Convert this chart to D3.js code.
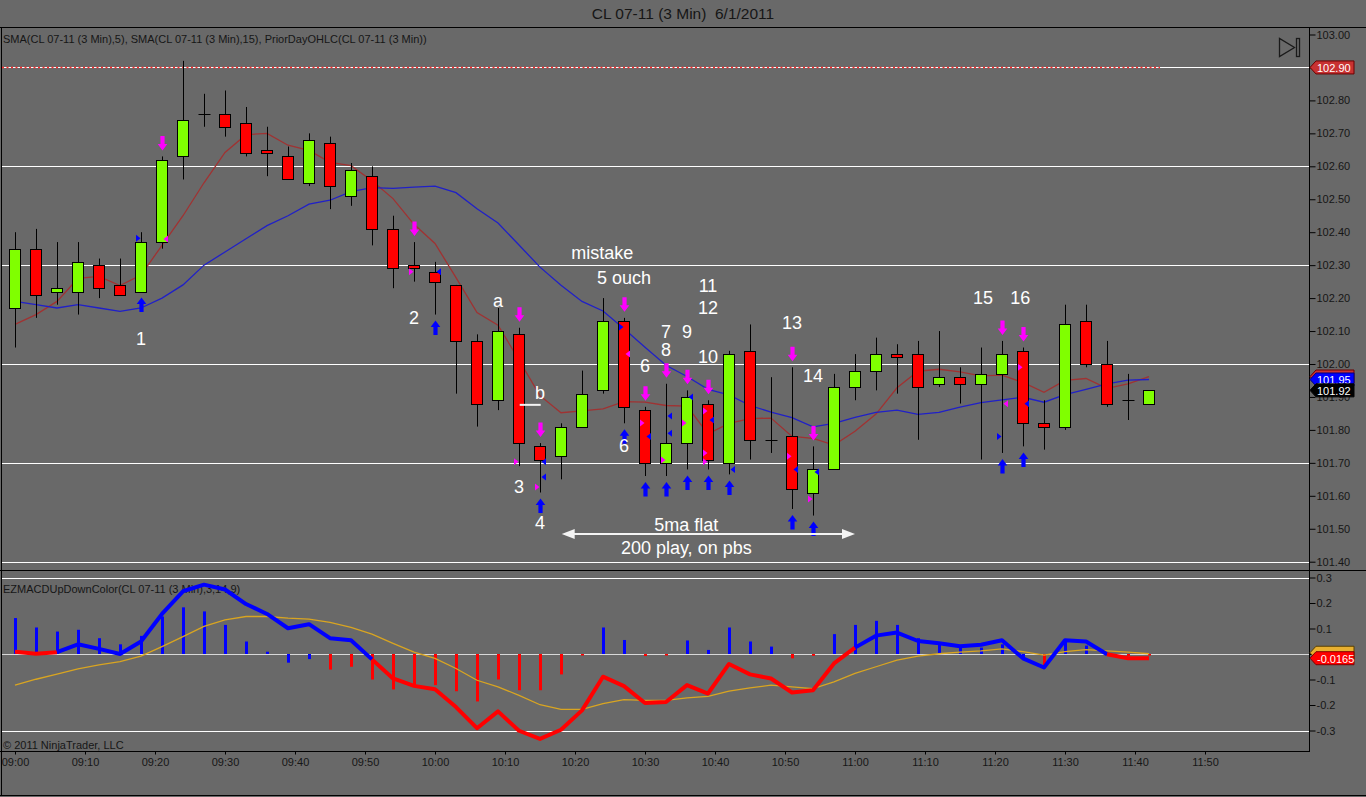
<!DOCTYPE html>
<html><head><meta charset="utf-8">
<script src="https://d3js.org/d3.v7.min.js"></script>
<style>html,body{margin:0;padding:0;background:#696969;overflow:hidden}svg{display:block}</style>
</head><body>
<svg id="c" width="1366" height="797"></svg>
<script>
// ---------------- DATA ----------------
const chartTitle = "CL 07-11 (3 Min)  6/1/2011";
const priceLegend = "SMA(CL 07-11 (3 Min),5), SMA(CL 07-11 (3 Min),15), PriorDayOHLC(CL 07-11 (3 Min))";
const macdLegend = "EZMACDUpDownColor(CL 07-11 (3 Min),3,14,9)";
const copyright = "© 2011 NinjaTrader, LLC";
const startTime = new Date(2011, 5, 1, 9, 0);
const barMinutes = 3;

const opens  = [102.17,102.35,102.22,102.22,102.30,102.24,102.22,102.37,102.63,102.76,102.76,102.73,102.65,102.63,102.55,102.67,102.51,102.57,102.41,102.30,102.28,102.24,102.07,101.89,102.09,101.75,101.72,101.81,101.92,102.13,101.86,101.70,101.76,101.88,101.70,102.04,101.77,101.78,101.61,101.68,101.93,101.98,102.03,102.03,101.94,101.96,101.94,101.97,102.04,101.82,101.81,102.13,102.00,101.89,101.88];
const highs  = [102.40,102.41,102.37,102.37,102.32,102.32,102.40,102.63,102.92,102.82,102.83,102.78,102.72,102.66,102.70,102.69,102.61,102.60,102.45,102.37,102.31,102.24,102.09,102.17,102.11,101.76,101.82,101.98,102.20,102.14,101.87,101.94,101.92,101.89,102.04,102.12,101.96,101.99,101.75,101.97,102.03,102.08,102.06,102.07,102.10,101.99,102.05,102.07,102.05,101.89,102.18,102.18,102.07,101.97,101.92];
const lows   = [102.05,102.14,102.18,102.15,102.20,102.21,102.22,102.35,102.56,102.72,102.69,102.63,102.57,102.56,102.54,102.47,102.48,102.36,102.23,102.25,102.15,101.91,101.81,101.86,101.69,101.61,101.65,101.81,101.91,101.82,101.66,101.66,101.68,101.68,101.665,101.71,101.73,101.56,101.54,101.68,101.89,101.92,101.91,101.77,101.93,101.88,101.71,101.73,101.75,101.74,101.80,101.99,101.87,101.83,101.88];
const closes = [102.35,102.21,102.23,102.31,102.23,102.21,102.37,102.62,102.74,102.76,102.72,102.64,102.64,102.56,102.68,102.54,102.59,102.41,102.29,102.29,102.25,102.07,101.88,102.10,101.76,101.71,101.81,101.91,102.13,101.87,101.70,101.76,101.90,101.71,102.03,101.77,101.77,101.62,101.68,101.93,101.98,102.03,102.02,101.93,101.96,101.94,101.97,102.03,101.82,101.81,102.12,102.00,101.88,101.89,101.92];

const sma5  = [102.12,102.15,102.19,102.26,102.266,102.238,102.27,102.36,102.45,102.55,102.642,102.696,102.70,102.664,102.648,102.612,102.602,102.556,102.502,102.424,102.366,102.262,102.156,102.118,102.012,101.904,101.852,101.858,101.864,101.886,101.884,101.874,101.872,101.788,101.82,101.834,101.836,101.78,101.774,101.754,101.796,101.848,101.928,101.978,101.984,101.976,101.964,101.966,101.944,101.914,101.95,101.956,101.926,101.94,101.962];
const sma15 = [102.19,102.18,102.17,102.18,102.17,102.16,102.17,102.20,102.24,102.30,102.34,102.38,102.42,102.45,102.485,102.497,102.523,102.535,102.533,102.537,102.540,102.520,102.471,102.428,102.361,102.294,102.239,102.190,102.161,102.107,102.051,101.996,101.962,101.923,101.906,101.874,101.854,101.837,101.809,101.820,101.838,101.853,101.860,101.847,101.853,101.869,101.883,101.891,101.899,101.884,101.907,101.923,101.940,101.951,101.953];

const macdLine = [0.009,0.001,0.007,0.038,0.020,0.000,0.049,0.157,0.246,0.272,0.253,0.196,0.157,0.101,0.117,0.062,0.054,-0.021,-0.096,-0.125,-0.138,-0.208,-0.291,-0.225,-0.301,-0.333,-0.297,-0.221,-0.089,-0.126,-0.192,-0.188,-0.122,-0.155,-0.039,-0.080,-0.096,-0.151,-0.142,-0.037,0.025,0.072,0.084,0.051,0.042,0.030,0.036,0.054,-0.017,-0.053,0.054,0.049,-0.001,-0.017,-0.0165];
const macdAvg  = [-0.122,-0.099,-0.079,-0.058,-0.043,-0.030,-0.008,0.029,0.068,0.108,0.134,0.147,0.147,0.141,0.137,0.124,0.104,0.078,0.042,0.007,-0.017,-0.057,-0.103,-0.129,-0.162,-0.199,-0.217,-0.217,-0.195,-0.179,-0.182,-0.182,-0.172,-0.166,-0.146,-0.133,-0.122,-0.129,-0.136,-0.109,-0.076,-0.050,-0.024,-0.008,0.001,0.007,0.012,0.020,0.009,-0.004,0.009,0.017,0.012,0.007,0.001];
const macdDiff = [0.141,0.104,0.088,0.095,0.062,0.038,0.071,0.147,0.183,0.167,0.114,0.049,0.009,-0.034,-0.020,-0.061,-0.050,-0.100,-0.139,-0.126,-0.122,-0.146,-0.186,-0.100,-0.142,-0.142,-0.080,0.000,0.104,0.055,-0.008,-0.004,0.053,0.016,0.104,0.049,0.029,-0.017,-0.007,0.078,0.114,0.130,0.114,0.062,0.045,0.029,0.025,0.038,-0.015,-0.043,0.055,0.033,-0.005,-0.008,-0.005];
const macdLineColors = "RRRBBBBBBBBBBBBBBBRRRRRRRRRRRRRRRRRRRRRRRBBBBBBBBBBBBRR";
const macdDiffColors = "BBBBBBBBBBBBBBBRRRRRRRRRRRRRBBRRBBBBBRRBBBBBBBBBBRBBBRR";

const priceTicks = [101.4,101.5,101.6,101.7,101.8,101.9,102.0,102.1,102.2,102.3,102.4,102.5,102.6,102.7,102.8,102.9,103.0];
const priceGrid  = [101.4,101.7,102.0,102.3,102.6,102.9];
const macdTicks  = [-0.3,-0.2,-0.1,0,0.1,0.2,0.3];
const macdGrid   = [-0.3,0.3];
const timeTicks  = ["09:00","09:10","09:20","09:30","09:40","09:50","10:00","10:10","10:20","10:30","10:40","10:50","11:00","11:10","11:20","11:30","11:40","11:50"];
const priorDayHigh = 102.90;

// signal arrows (bar index)
const downArrowBars = [7,19,24,25,29,30,31,32,33,37,38,47,48];
const upArrowBars   = [6,20,25,29,30,31,32,33,34,37,38,47,48];
// small triangles: [bar, price, colour, side]
const markers = [
  [6,102.382,"B","L"],[20,102.28,"B","R"],[25,101.703,"B","R"],[25,101.657,"B","R"],[29,102.112,"B","L"],
  [30,101.78,"B","R"],[31,101.842,"B","R"],[31,101.79,"B","R"],[32,101.90,"B","R"],[33,101.83,"B","R"],
  [34,101.68,"B","R"],[37,101.68,"B","R"],[38,101.672,"B","R"],[47,101.78,"B","L"],[48,101.879,"B","R"],
  [7,102.379,"M","R"],[19,102.28,"M","L"],[24,101.703,"M","L"],[25,101.627,"M","L"],[29,102.03,"M","R"],
  [30,101.821,"M","L"],[31,101.709,"M","L"],[32,101.821,"M","L"],[33,101.857,"M","L"],[33,101.73,"M","L"],
  [33,101.703,"M","L"],[37,101.72,"M","L"],[38,101.59,"M","L"],[47,101.879,"M","R"],[48,101.99,"M","L"]
];
// annotations: [minutes after 09:00, price, text]
const notes = [
  [18,102.076,"1"],[57,102.14,"2"],[69,102.19,"a"],[75,101.912,"b"],[72,101.627,"3"],[75,101.517,"4"],
  [83.9,102.337,"mistake"],[87,102.261,"5 ouch"],[90,101.994,"6"],[87,101.75,"6"],
  [93,102.097,"7"],[93,102.042,"8"],[96,102.097,"9"],[99,102.021,"10"],[99,102.237,"11"],[99,102.17,"12"],
  [111,102.124,"13"],[114,101.964,"14"],[138.3,102.20,"15"],[143.6,102.20,"16"],
  [95.9,101.511,"5ma flat"],[95.9,101.442,"200 play, on pbs"]
];
const bMark = [72.1, 75.1, 101.876];          // short white line near "b"
const rangeArrow = [78.1, 120, 101.484];      // double-headed arrow

// ---------------- SETUP ----------------
const svg = d3.select("#c");
const W = 1366, H = 797;
const plotRight = 1309;
const font = "'Liberation Sans', Arial, sans-serif";
const txtCol = "#161616";
const tAt = m => new Date(+startTime + m * 60000);
const barTime = i => tAt(i * barMinutes);
const parseHM = s => { const [h, m] = s.split(":").map(Number); return tAt((h - 9) * 60 + m); };

const x = d3.scaleTime().domain([startTime, tAt(180)]).range([15, 1275]);
const y = d3.scaleLinear().domain([101.4, 103.0]).range([561.7, 34.5]);
const ym = d3.scaleLinear().domain([-0.3, 0.3]).range([730.5, 577.5]);

svg.append("rect").attr("width", W).attr("height", H).attr("fill", "#696969");

// title
svg.append("text").attr("x", 683).attr("y", 13).attr("text-anchor", "middle")
  .attr("dominant-baseline", "central").style("white-space", "pre")
  .attr("font-family", font).attr("font-size", 15.5).attr("fill", txtCol).text(chartTitle);

// grids
const gg = svg.append("g");
gg.selectAll("line.pg").data(priceGrid).join("line")
  .attr("x1", 2).attr("x2", plotRight).attr("y1", d => Math.round(y(d)) + 0.5).attr("y2", d => Math.round(y(d)) + 0.5)
  .attr("stroke", "#ffffff").attr("stroke-width", 1);
gg.selectAll("line.mg").data(macdGrid).join("line")
  .attr("x1", 2).attr("x2", plotRight).attr("y1", d => Math.round(ym(d)) + 0.5).attr("y2", d => Math.round(ym(d)) + 0.5)
  .attr("stroke", "#ffffff").attr("stroke-width", 1);
gg.append("line").attr("x1", 2).attr("x2", plotRight)
  .attr("y1", Math.round(ym(0)) + 0.5).attr("y2", Math.round(ym(0)) + 0.5)
  .attr("stroke", "#d8d8d8").attr("stroke-width", 1);

// prior day high (dotted red over the grid)
const lastX = x(barTime(closes.length - 1));
gg.append("line").attr("x1", 2).attr("x2", lastX + 11)
  .attr("y1", Math.round(y(priorDayHigh)) + 0.5).attr("y2", Math.round(y(priorDayHigh)) + 0.5)
  .attr("stroke", "#ff2a2a").attr("stroke-width", 1.6).attr("stroke-dasharray", "2,2.5");

// legends
svg.append("text").attr("x", 3).attr("y", 39).attr("dominant-baseline", "central")
  .attr("font-family", font).attr("font-size", 11).attr("fill", txtCol).text(priceLegend);
svg.append("text").attr("x", 3).attr("y", 589).attr("dominant-baseline", "central")
  .attr("font-family", font).attr("font-size", 11).attr("fill", txtCol).text(macdLegend);
svg.append("text").attr("x", 3).attr("y", 745).attr("dominant-baseline", "central")
  .attr("font-family", font).attr("font-size", 11).attr("fill", txtCol).text(copyright);

// ---------------- SMA lines ----------------
const lineGen = d3.line().x((d, i) => x(barTime(i))).y(d => y(d));
svg.append("path").datum(sma5).attr("d", lineGen).attr("fill", "none")
  .attr("stroke", "#a03232").attr("stroke-width", 1.3);
svg.append("path").datum(sma15).attr("d", lineGen).attr("fill", "none")
  .attr("stroke", "#2020c8").attr("stroke-width", 1.3);

// ---------------- Candles ----------------
const bars = closes.map((c, i) => ({ i, t: barTime(i), o: opens[i], h: highs[i], l: lows[i], c }));
const cg = svg.append("g");
cg.selectAll("line.wick").data(bars).join("line")
  .attr("x1", d => Math.round(x(d.t)) + 0.5).attr("x2", d => Math.round(x(d.t)) + 0.5)
  .attr("y1", d => y(d.h)).attr("y2", d => y(d.l))
  .attr("stroke", "#000").attr("stroke-width", 1);
cg.selectAll("rect.body").data(bars.filter(d => d.c !== d.o)).join("rect")
  .attr("x", d => Math.round(x(d.t)) - 5.5)
  .attr("y", d => Math.round(y(Math.max(d.o, d.c))) + 0.5)
  .attr("width", 11)
  .attr("height", d => Math.max(2, Math.round(y(Math.min(d.o, d.c))) - Math.round(y(Math.max(d.o, d.c)))))
  .attr("fill", d => d.c > d.o ? "#80ff00" : "#ff0000")
  .attr("stroke", "#000").attr("stroke-width", 1);
cg.selectAll("line.doji").data(bars.filter(d => d.c === d.o)).join("line")
  .attr("x1", d => Math.round(x(d.t)) - 5.5).attr("x2", d => Math.round(x(d.t)) + 6.5)
  .attr("y1", d => Math.round(y(d.c)) + 0.5).attr("y2", d => Math.round(y(d.c)) + 0.5)
  .attr("stroke", "#000").attr("stroke-width", 1);

// ---------------- Markers ----------------
const mg = svg.append("g");
const downArrow = "M0,0 L-4.8,-6.5 L-2.1,-6.5 L-2.1,-14.5 L2.1,-14.5 L2.1,-6.5 L4.8,-6.5 Z";
const upArrow = "M0,0 L-4.8,6.5 L-2.1,6.5 L-2.1,14.5 L2.1,14.5 L2.1,6.5 L4.8,6.5 Z";
mg.selectAll("path.da").data(downArrowBars).join("path")
  .attr("d", downArrow)
  .attr("transform", i => `translate(${x(barTime(i)) + 0.5},${y(highs[i]) - 6})`)
  .attr("fill", "#ff00ff");
mg.selectAll("path.ua").data(upArrowBars).join("path")
  .attr("d", upArrow)
  .attr("transform", i => `translate(${x(barTime(i)) + 0.5},${y(lows[i]) + 6})`)
  .attr("fill", "#0000ff");
mg.selectAll("path.tri").data(markers).join("path")
  .attr("d", d => d[3] === "R" ? "M1,0 L5.5,-3.5 L5.5,3.5 Z" : "M-1,0 L-5.5,-3.5 L-5.5,3.5 Z")
  .attr("transform", d => `translate(${x(barTime(d[0])) + 0.5},${y(d[1])})`)
  .attr("fill", d => d[2] === "B" ? "#0000ff" : "#ff00ff");

// ---------------- Annotations ----------------
const ng = svg.append("g");
ng.selectAll("text").data(notes).join("text")
  .attr("x", d => x(tAt(d[0]))).attr("y", d => y(d[1]))
  .attr("text-anchor", "middle").attr("dominant-baseline", "central")
  .attr("font-family", font).attr("font-size", 18).attr("fill", "#ffffff").text(d => d[2]);
ng.append("line").attr("x1", x(tAt(bMark[0]))).attr("x2", x(tAt(bMark[1])))
  .attr("y1", y(bMark[2])).attr("y2", y(bMark[2])).attr("stroke", "#f4f4f4").attr("stroke-width", 2);
{
  const xa = x(tAt(rangeArrow[0])), xb = x(tAt(rangeArrow[1])), ya = y(rangeArrow[2]);
  ng.append("line").attr("x1", xa + 8).attr("x2", xb - 8).attr("y1", ya).attr("y2", ya)
    .attr("stroke", "#f4f4f4").attr("stroke-width", 2);
  ng.append("path").attr("d", `M${xa},${ya} L${xa + 13},${ya - 5} L${xa + 13},${ya + 5} Z`).attr("fill", "#f4f4f4");
  ng.append("path").attr("d", `M${xb},${ya} L${xb - 13},${ya - 5} L${xb - 13},${ya + 5} Z`).attr("fill", "#f4f4f4");
}

// ---------------- MACD panel ----------------
const hg = svg.append("g");
hg.selectAll("rect").data(macdDiff).join("rect")
  .attr("x", (d, i) => Math.round(x(barTime(i))) - 1)
  .attr("y", d => Math.min(ym(d), ym(0)))
  .attr("width", 3)
  .attr("height", d => Math.max(1.5, Math.abs(ym(d) - ym(0))))
  .attr("fill", (d, i) => macdDiffColors[i] === "B" ? "#0000ff" : "#ff0000");

const mLine = d3.line().x(d => x(barTime(d.i))).y(d => ym(d.v));
svg.append("path").datum(macdAvg.map((v, i) => ({ i, v }))).attr("d", mLine)
  .attr("fill", "none").attr("stroke", "#d9a521").attr("stroke-width", 1.3);
// colored runs of MACD line
const runs = [];
for (let i = 1; i < macdLine.length; i++) {
  const col = macdLineColors[i];
  if (!runs.length || runs[runs.length - 1].col !== col) runs.push({ col, pts: [{ i: i - 1, v: macdLine[i - 1] }] });
  runs[runs.length - 1].pts.push({ i, v: macdLine[i] });
}
svg.selectAll("path.mrun").data(runs).join("path")
  .attr("d", d => mLine(d.pts)).attr("fill", "none")
  .attr("stroke", d => d.col === "B" ? "#0000ff" : "#ff0000")
  .attr("stroke-width", 4).attr("stroke-linejoin", "round");

// ---------------- Frames ----------------
const fg = svg.append("g").attr("stroke", "#000").attr("stroke-width", 1);
fg.append("line").attr("x1", 0).attr("x2", W).attr("y1", 27.5).attr("y2", 27.5);
fg.append("line").attr("x1", 0).attr("x2", W).attr("y1", 570.5).attr("y2", 570.5);
fg.append("line").attr("x1", 0).attr("x2", plotRight).attr("y1", 751.5).attr("y2", 751.5);
fg.append("line").attr("x1", 0).attr("x2", W).attr("y1", 795.5).attr("y2", 795.5);
fg.append("line").attr("x1", 1.5).attr("x2", 1.5).attr("y1", 27).attr("y2", 796);
fg.append("line").attr("x1", plotRight + 0.5).attr("x2", plotRight + 0.5).attr("y1", 27).attr("y2", 752);

// ---------------- Axes ----------------
const styleAxis = g => {
  g.select(".domain").remove();
  g.selectAll("line").attr("stroke", "#000");
  g.selectAll("text").attr("font-family", font).attr("font-size", 11).attr("fill", txtCol);
};
svg.append("g").attr("transform", `translate(${plotRight + 0.5},0)`)
  .call(d3.axisRight(y).tickValues(priceTicks).tickFormat(d3.format(".2f")).tickSize(6).tickPadding(1))
  .call(styleAxis);
// zero label is hidden behind the value tags in the reference, so it is left blank
const mfmt = v => v === 0 ? "" : (v < 0 ? "-" : "") + Math.abs(v).toFixed(1);
svg.append("g").attr("transform", `translate(${plotRight + 0.5},0)`)
  .call(d3.axisRight(ym).tickValues(macdTicks).tickFormat(mfmt).tickSize(6).tickPadding(1))
  .call(styleAxis);
svg.append("g").attr("transform", `translate(0,751.5)`)
  .call(d3.axisBottom(x).tickValues(timeTicks.map(parseHM)).tickFormat(d3.timeFormat("%H:%M")).tickSize(3).tickPadding(4))
  .call(styleAxis);

// ---------------- Value tags ----------------
function tag(yc, text, fill, stroke, tcol) {
  const g = svg.append("g");
  g.append("path").attr("d", `M${plotRight + 1},${yc} L${plotRight + 7},${yc - 6.5} H${plotRight + 45} V${yc + 6.5} H${plotRight + 7} Z`)
    .attr("fill", fill).attr("stroke", stroke).attr("stroke-width", 1);
  if (text) g.append("text").attr("x", plotRight + 8).attr("y", yc + 0.5).attr("dominant-baseline", "central")
    .attr("font-family", font).attr("font-size", 11).attr("fill", tcol).text(text);
}
tag(y(priorDayHigh), priorDayHigh.toFixed(2), "#c83232", "#6a0000", "#ffffff");
tag(y(sma5[sma5.length - 1]), null, "#c83232", "#6a0000", "#ffffff");   // covered by the SMA15 tag
tag(y(sma15[sma15.length - 1]), sma15[sma15.length - 1].toFixed(2), "#0000ff", "#000080", "#ffffff");
tag(y(closes[closes.length - 1]), closes[closes.length - 1].toFixed(2), "#000000", "#000000", "#ffffff");
tag(ym(macdAvg[macdAvg.length - 1]) - 1, null, "#e8b030", "#5a4000", "#202020");   // covered by the MACD tag
tag(ym(macdLine[macdLine.length - 1]), String(macdLine[macdLine.length - 1]), "#ff0000", "#800000", "#ffffff");

// "go to end" icon
const ig = svg.append("g").attr("fill", "none").attr("stroke", "#1a1a1a").attr("stroke-width", 1.3);
ig.append("path").attr("d", "M1279.5,38.5 L1279.5,56.5 L1294.5,47.5 Z");
ig.append("rect").attr("x", 1296.5).attr("y", 38.5).attr("width", 3).attr("height", 18);
</script>
</body></html>
